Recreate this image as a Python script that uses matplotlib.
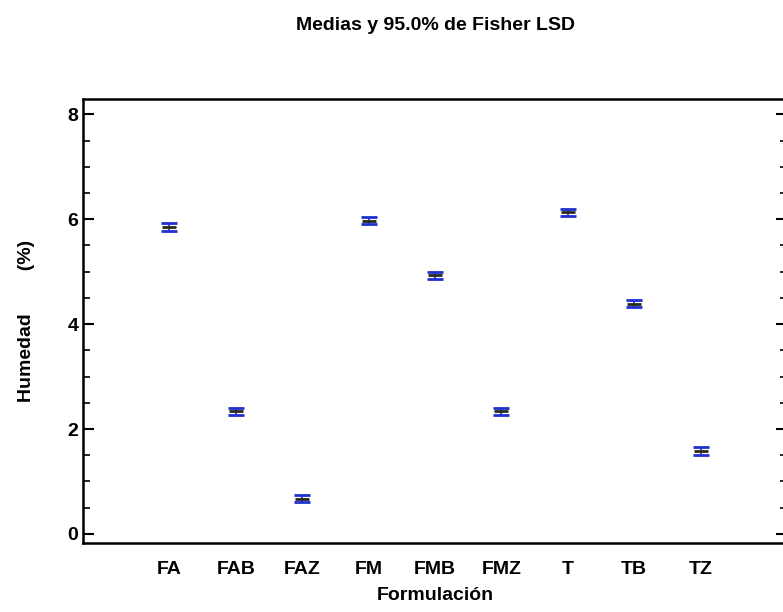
import matplotlib
matplotlib.use("Agg")
import matplotlib.pyplot as plt
from matplotlib.ticker import MultipleLocator

# Data
formulaciones = ["FA", "FAB", "FAZ", "FM", "FMB", "FMZ", "T", "TB", "TZ"]
medias = [5.85, 2.34, 0.67, 5.97, 4.93, 2.34, 6.13, 4.39, 1.58]
lsd_half = [0.07, 0.07, 0.07, 0.07, 0.07, 0.07, 0.07, 0.07, 0.07]

plt.rcParams["font.family"] = ["Liberation Sans", "DejaVu Sans"]
plt.rcParams["font.weight"] = "bold"
plt.rcParams["axes.labelweight"] = "bold"

fig = plt.figure(figsize=(7.83, 6.12), dpi=100)
ax = fig.add_axes([0.106, 0.113, 0.899, 0.725])

x = range(len(formulaciones))
ax.errorbar(x, medias, yerr=lsd_half, fmt="none", ecolor="#1f2fd0",
            elinewidth=1.2, capsize=6, capthick=2)
ax.plot(x, medias, ls="none", marker="_", ms=10, mew=2, color="#2a2a1a")

ax.set_xlim(-1.3, 9.3)
ax.set_ylim(-0.17, 8.29)
ax.set_xticks(list(x))
ax.set_xticklabels(formulaciones, fontsize=14)
ax.tick_params(axis="x", length=0, pad=13)
ax.yaxis.set_major_locator(MultipleLocator(2))
ax.yaxis.set_minor_locator(MultipleLocator(0.5))
ax.tick_params(axis="y", which="major", direction="in", length=8, width=1.5,
               labelsize=14, right=True)
ax.tick_params(axis="y", which="minor", direction="in", length=5, width=1.2,
               right=True)
for s in ax.spines.values():
    s.set_linewidth(1.8)

ax.set_xlabel("Formulación", fontsize=14)
ax.xaxis.set_label_coords(0.5, -0.1)
ax.set_ylabel("Humedad        (%)", fontsize=14)
ax.yaxis.set_label_coords(-0.068, 0.5)
fig.text(435 / 783, 1 - 26 / 612, "Medias y 95.0% de Fisher LSD",
         ha="center", va="center", fontsize=14)

fig.savefig("out.png", dpi=100)
